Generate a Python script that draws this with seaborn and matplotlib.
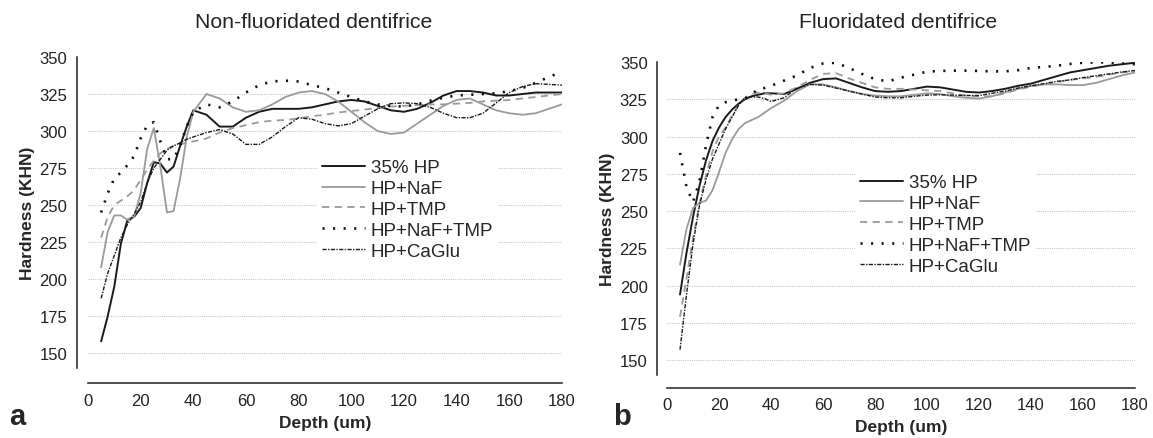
import matplotlib
matplotlib.use("Agg")
import matplotlib.pyplot as plt
import seaborn as sns
import numpy as np
import pandas as pd
from matplotlib.ticker import MultipleLocator

# ---------------- data ----------------
depths = [5, 7.5, 10, 12.5, 15, 17.5, 20, 22.5, 25, 27.5, 30, 32.5, 35, 37.5, 40,
          45, 50, 55, 60, 65, 70, 75, 80, 85, 90, 95, 100, 105, 110, 115, 120,
          125, 130, 135, 140, 145, 150, 155, 160, 165, 170, 175, 180]

series_names = ["35% HP", "HP+NaF", "HP+TMP", "HP+NaF+TMP", "HP+CaGlu"]

# Non-fluoridated dentifrice (panel a)
a_hp = [158, 175, 195, 224, 240, 242, 248, 265, 279, 278, 272, 276, 290, 303, 314,
        311, 303, 303, 309, 313, 315, 315, 315, 316, 318, 320, 321, 320, 317, 314, 313,
        315, 319, 324, 327, 327, 326, 324, 324, 325, 326, 326, 326]
a_naf = [208, 232, 243, 243, 240, 242, 258, 288, 302, 276, 245, 246, 268, 296, 313,
         325, 322, 316, 313, 314, 318, 323, 326, 327, 325, 320, 313, 306, 300, 298, 299,
         305, 311, 317, 321, 322, 318, 314, 312, 311, 312, 315, 318]
a_tmp = [228, 242, 250, 253, 256, 260, 267, 274, 280, 285, 288, 290, 291, 292, 293,
         295, 299, 302, 304, 306, 307, 307.5, 308.5, 310, 311, 312.5, 313.5, 314.5, 315.5, 316.5, 317,
         317.5, 318, 318, 318.5, 319, 320, 320.5, 321, 322, 323, 324, 325]
a_naf_tmp = [245, 258, 268, 272, 277, 283, 295, 304, 306, 293, 281, 281, 290, 303, 313,
             318, 316, 320, 326, 331, 333.5, 334, 333.5, 331, 329, 326, 323, 320, 318, 317, 316.5,
             318, 320.5, 322.5, 324, 324.5, 325, 325.5, 327, 329, 332.5, 336.5, 340]
a_caglu = [187, 204, 216, 228, 237, 244, 252, 265, 275, 281, 287, 290, 292, 294.5, 296,
           299, 301, 298, 291, 291, 296, 303, 309, 308, 305, 303.5, 305, 310, 315, 318.5, 319,
           318.5, 316, 312, 309, 309, 312, 319, 326, 330, 332, 331.5, 331]

# Fluoridated dentifrice (panel b)
b_hp = [194, 222, 246, 267, 284, 297, 306, 313, 318, 322, 325, 327, 328, 329, 329,
        328.5, 332, 336, 338.5, 339, 336, 333, 330.5, 330, 330.5, 332, 333.5, 333, 331.5, 330, 329.5,
        330.5, 332, 334, 335.5, 338, 340.5, 343, 344.5, 346, 347.5, 348.5, 349.5]
b_naf = [214, 238, 252, 255.5, 257, 264, 276, 289, 298, 305, 309, 311, 313, 316, 319,
         324, 330.5, 335, 335, 333, 330.5, 328.5, 327.5, 327, 327, 328, 329, 328.5, 327, 326, 325.5,
         327, 329.5, 332, 334, 335, 335, 334.5, 334.5, 336, 338.5, 341, 343]
b_tmp = [179, 205, 232, 255, 274, 290, 300, 306, 314, 321, 326, 328.5, 329.5, 329, 328,
         329, 333, 338, 342, 342.5, 339, 336, 333, 332, 332, 331.5, 331, 330.5, 329, 327.5, 327,
         327, 329, 331.5, 333.5, 335, 336.5, 338, 339, 340, 341.5, 343, 344]
b_naf_tmp = [289, 266, 256, 270, 294, 313, 321, 323, 324, 325, 325.5, 328, 332, 332.5, 334,
             337.5, 341, 346, 349, 349.5, 346, 342, 338.5, 337, 339.5, 341.5, 343.5, 344, 344.2, 344.2, 344,
             343.7, 343.7, 344.5, 346, 346.7, 347.5, 348.7, 349.5, 349.8, 349.7, 349, 348.5]
b_caglu = [157, 194, 228, 254, 271, 285, 295, 305, 313, 321, 326, 326.5, 326.5, 325.5, 323.5,
           326, 332.5, 335, 334.5, 332.5, 330.5, 328.5, 326.5, 326, 326, 327, 327.8, 328, 327.8, 327.5, 327.5,
           329, 330.5, 332.5, 334, 335.5, 337, 338, 339.5, 340.8, 342, 343.3, 344.3]

panel_titles = ["Non-fluoridated dentifrice", "Fluoridated dentifrice"]
panel_letters = ["a", "b"]
y_ticks = [150, 175, 200, 225, 250, 275, 300, 325, 350]
x_ticks = [0, 20, 40, 60, 80, 100, 120, 140, 160, 180]

# ---------------- style ----------------
sns.set_style("white")
plt.rcParams["font.family"] = ["Liberation Sans", "DejaVu Sans"]

styles = [
    dict(color="#1a1a1a", lw=1.4, linestyle="-"),
    dict(color="#9a9a9a", lw=1.3, linestyle="-"),
    dict(color="#9a9a9a", lw=1.3, linestyle=(0, (4, 3))),
    dict(color="#111111", lw=1.9, linestyle=(0, (0.8, 3.2))),
    dict(color="#1a1a1a", lw=1.0, linestyle=(0, (3, 1, 1, 1))),
]

fig = plt.figure(figsize=(11.53, 4.39), dpi=100)
ax_a = fig.add_axes([0.0763, 0.1595, 0.4111, 0.7084])
ax_b = fig.add_axes([0.5785, 0.1435, 0.4059, 0.7130])

panels = [
    (ax_a, [a_hp, a_naf, a_tmp, a_naf_tmp, a_caglu], (0.2671, 0.6674), {"left": 8, "bottom": 11}, 0.2723),
    (ax_b, [b_hp, b_naf, b_tmp, b_naf_tmp, b_caglu], (0.7337, 0.6333), {"left": 7, "bottom": 9}, 0.7788),
]

for i, (ax, data, leg_pos, offs, title_x) in enumerate(panels):
    df = pd.DataFrame({"Depth": depths})
    for name, vals in zip(series_names, data):
        df[name] = vals
    long = df.melt(id_vars="Depth", var_name="Group", value_name="Hardness")
    # gridlines (dotted) at each hardness tick except the top one
    ax.hlines(y_ticks[:-1], 0, 180, colors="#c8c8c8", linestyles=(0, (1, 1)), lw=0.8, zorder=0)
    handles = []
    for name, st in zip(series_names, styles):
        sub = long[long["Group"] == name]
        sns.lineplot(data=sub, x="Depth", y="Hardness", ax=ax, color=st["color"],
                     lw=st["lw"], linestyle=st["linestyle"], label=name, legend=False,
                     zorder=3)
        handles.append(ax.get_lines()[-1])
    ax.set_xlim(0, 180)
    ax.set_ylim(140, 350)
    ax.set_xticks(x_ticks)
    ax.xaxis.set_minor_locator(MultipleLocator(10))
    ax.set_yticks(y_ticks)
    ax.tick_params(axis="both", which="major", direction="out", length=4, width=1,
                   labelsize=12, color="#222222", labelcolor="#222222", pad=3)
    ax.tick_params(axis="x", which="minor", direction="out", length=2.5, width=1, color="#222222")
    sns.despine(ax=ax, offset=offs)
    for sp in ("left", "bottom"):
        ax.spines[sp].set_color("#222222")
        ax.spines[sp].set_linewidth(1.1)
    ax.set_xlabel("Depth (um)", fontsize=12.5, fontweight="bold", labelpad=5)
    ax.set_ylabel("Hardness (KHN)", fontsize=12.5, fontweight="bold", labelpad=3)
    fig.text(title_x, 1 - 22 / 439, panel_titles[i], fontsize=15.3,
             ha="center", va="center", color="#222222")
    leg = ax.legend(handles=handles, labels=series_names, loc="upper left",
                    bbox_to_anchor=leg_pos, bbox_transform=fig.transFigure,
                    fontsize=13.5, handlelength=2.3, handletextpad=0.3,
                    labelspacing=0.2, borderpad=0.25, frameon=True, fancybox=False,
                    framealpha=1)
    leg.get_frame().set_edgecolor("none")
    leg.get_frame().set_facecolor("white")

fig.text(0.008, 0.032, panel_letters[0], fontsize=21, fontweight="bold", ha="left", va="baseline")
fig.text(0.532, 0.032, panel_letters[1], fontsize=21, fontweight="bold", ha="left", va="baseline")

fig.savefig("out.png", dpi=100)
